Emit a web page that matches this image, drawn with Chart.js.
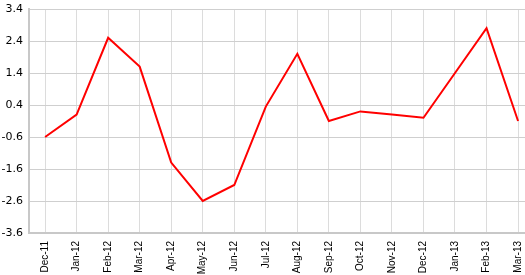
<!DOCTYPE html>
<html>
<head>
<meta charset="utf-8">
<script src="https://cdn.jsdelivr.net/npm/chart.js@4/dist/chart.umd.min.js"></script>
<style>
  html, body { margin: 0; padding: 0; background: #fff; }
  #wrap { width: 525px; height: 275px; }
</style>
</head>
<body>
<div id="wrap"><canvas id="lineChart"></canvas></div>
<script>
// Chart data
const months = ['Dec-11', 'Jan-12', 'Feb-12', 'Mar-12', 'Apr-12', 'May-12', 'Jun-12', 'Jul-12',
                'Aug-12', 'Sep-12', 'Oct-12', 'Nov-12', 'Dec-12', 'Jan-13', 'Feb-13', 'Mar-13'];
const values = [-0.6, 0.1, 2.5, 1.6, -1.4, -2.6, -2.1, 0.35, 2.0, -0.1, 0.2, 0.1, 0.0, 1.4, 2.8, -0.1];
const yTicks = [-3.6, -2.6, -1.6, -0.6, 0.4, 1.4, 2.4, 3.4];

const points = values.map((v, i) => ({ x: i, y: v }));

new Chart(document.getElementById('lineChart'), {
    type: 'line',
    data: {
        datasets: [{
            data: points,
            borderColor: '#ff0000',
            borderWidth: 2,
            pointRadius: 0,
            tension: 0,
            fill: false
        }]
    },
    options: {
        responsive: true,
        maintainAspectRatio: false,
        animation: false,
        layout: { padding: { top: 9, right: 0, left: 0, bottom: 0 } },
        plugins: { legend: { display: false }, tooltip: { enabled: false } },
        scales: {
            x: {
                type: 'linear',
                min: -0.51,
                max: 15.22,
                afterBuildTicks: s => { s.ticks = months.map((_, i) => ({ value: i })); },
                afterFit: s => { s.height = 42; s.paddingLeft = 0; s.paddingRight = 0; },
                border: { color: '#c8c8c8', width: 2 },
                grid: { color: '#dcdcdc', drawTicks: false },
                ticks: {
                    autoSkip: false,
                    minRotation: 90,
                    maxRotation: 90,
                    padding: 8,
                    color: '#000',
                    font: { family: 'Liberation Sans', size: 10 },
                    callback: v => months[v]
                }
            },
            y: {
                min: -3.6,
                max: 3.4,
                afterBuildTicks: s => { s.ticks = yTicks.map(v => ({ value: v })); },
                afterFit: s => { s.width = 29; s.paddingTop = 0; s.paddingBottom = 0; },
                border: { color: '#c8c8c8', width: 2 },
                grid: { color: '#cfcfcf', drawTicks: false },
                ticks: {
                    padding: 6,
                    color: '#000',
                    font: { family: 'DejaVu Sans', size: 11 },
                    callback: v => v.toFixed(1)
                }
            }
        }
    }
});
</script>
</body>
</html>
